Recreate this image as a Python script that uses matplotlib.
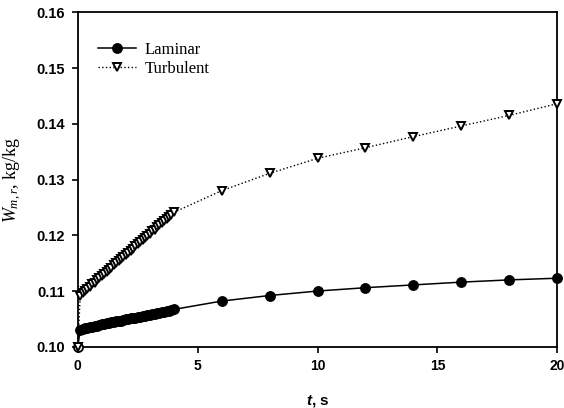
"""Moisture content vs time, laminar and turbulent cases."""

import matplotlib
matplotlib.use("Agg")
import matplotlib.pyplot as plt

plt.rcParams["mathtext.fontset"] = "custom"
plt.rcParams["mathtext.rm"] = "Liberation Serif"
plt.rcParams["mathtext.it"] = "Liberation Serif:italic"
plt.rcParams["mathtext.bfit"] = "Liberation Sans:italic:bold"

# time points (s)
t = [0.0, 0.1, 0.2, 0.3, 0.4, 0.5, 0.6, 0.7, 0.8, 0.9,
     1.0, 1.1, 1.2, 1.3, 1.4, 1.5, 1.6, 1.7, 1.8, 1.9,
     2.0, 2.1, 2.2, 2.3, 2.4, 2.5, 2.6, 2.7, 2.8, 2.9,
     3.0, 3.1, 3.2, 3.3, 3.4, 3.5, 3.6, 3.7, 3.8, 3.9,
     4.0, 6, 8, 10, 12, 14, 16, 18, 20]

laminar = [0.1000, 0.1031, 0.1032, 0.1033, 0.1034, 0.1035, 0.1036, 0.1037, 0.1038, 0.1039,
           0.1040, 0.1041, 0.1042, 0.1043, 0.1044, 0.1045, 0.1046, 0.1046, 0.1047, 0.1048,
           0.1049, 0.1050, 0.1051, 0.1052, 0.1052, 0.1053, 0.1054, 0.1055, 0.1056, 0.1057,
           0.1057, 0.1058, 0.1059, 0.1060, 0.1061, 0.1062, 0.1063, 0.1064, 0.1065, 0.1066,
           0.1067, 0.1082, 0.1092, 0.1100, 0.1106, 0.1111, 0.1116, 0.1120, 0.1123]

turbulent = [0.1000, 0.1092, 0.1096, 0.1100, 0.1104, 0.1108, 0.1112, 0.1115, 0.1119, 0.1123,
             0.1127, 0.1131, 0.1134, 0.1138, 0.1142, 0.1146, 0.1150, 0.1153, 0.1157, 0.1161,
             0.1165, 0.1169, 0.1172, 0.1176, 0.1180, 0.1184, 0.1188, 0.1191, 0.1195, 0.1199,
             0.1203, 0.1207, 0.1210, 0.1214, 0.1218, 0.1222, 0.1226, 0.1229, 0.1233, 0.1237,
             0.1241, 0.1280, 0.1311, 0.1338, 0.1357, 0.1377, 0.1396, 0.1415, 0.1436]

x_ticks = [0, 5, 10, 15, 20]
y_ticks = [0.10, 0.11, 0.12, 0.13, 0.14, 0.15, 0.16]

x_tick_font = {"family": "Liberation Sans", "weight": "bold", "size": 10}
y_tick_font = {"family": "Liberation Sans", "weight": "bold", "size": 10.5}

fig = plt.figure(figsize=(5.64, 4.08), dpi=100)
ax = fig.add_axes([0.138, 0.150, 0.850, 0.820])

ax.plot(t, laminar, "-", color="black", linewidth=1.1, marker="o",
        markersize=6.8, markerfacecolor="black", markeredgecolor="black",
        markevery=list(range(1, len(t))), label="Laminar", clip_on=False, zorder=3)
ax.plot(t, turbulent, ":", color="black", linewidth=1.0, marker="v",
        markersize=6.2, markerfacecolor="white", markeredgecolor="black",
        markeredgewidth=1.4, label="Turbulent", clip_on=False, zorder=4)
# open marker at the origin
ax.plot(t[:1], laminar[:1], "o", markersize=6.5, markerfacecolor="white",
        markeredgecolor="black", markeredgewidth=1.3, clip_on=False, zorder=3.5)

ax.set_xlim(0, 20)
ax.set_ylim(0.10, 0.16)
ax.set_xticks(x_ticks)
ax.set_yticks(y_ticks)
ax.set_xticklabels([str(v) for v in x_ticks], fontdict=x_tick_font)
ax.set_yticklabels([f"{v:.2f}" for v in y_ticks], fontdict=y_tick_font)
ax.tick_params(direction="out", length=4, width=1.2, pad=5)
for side in ax.spines.values():
    side.set_linewidth(1.3)

ax.set_xlabel("$\\mathbfit{t}$, s", fontsize=11, fontweight="bold",
              family="Liberation Sans", labelpad=14)
ax.set_ylabel("$W_{m,r}$, kg/kg", fontsize=13, family="Liberation Serif",
              labelpad=9)

leg = ax.legend(loc="upper left", bbox_to_anchor=(0.01, 0.955), frameon=False,
                prop={"family": "Liberation Serif", "size": 12},
                handlelength=2.3, handletextpad=0.5, labelspacing=0.15)

fig.savefig("out.png", dpi=100)
